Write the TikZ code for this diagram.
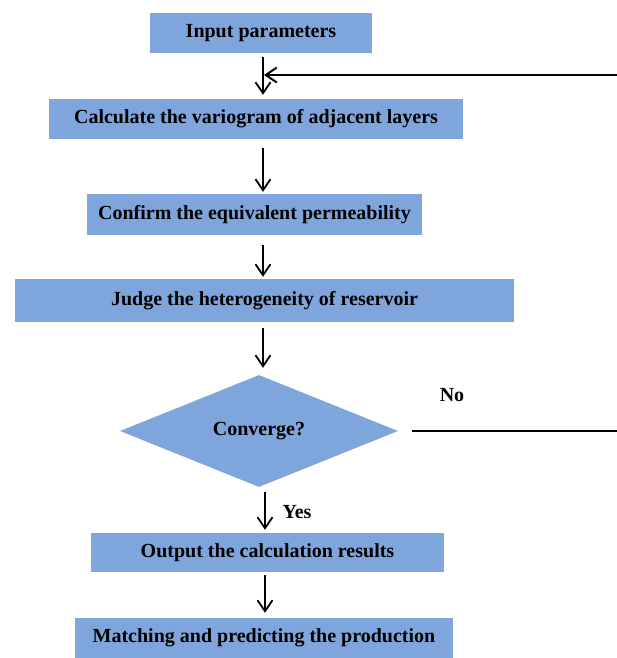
\documentclass[tikz,border=0pt]{standalone}
\usepackage{fontspec}
\setmainfont{Liberation Serif}
\usetikzlibrary{shapes.geometric,arrows.meta}
\definecolor{boxblue}{RGB}{126,166,220}

\begin{document}
\begin{tikzpicture}[
		x=1pt, y=-1pt,
		every node/.style={font=\bfseries\fontsize{20}{24}\selectfont, inner sep=0pt},
		box/.style={rectangle, fill=boxblue, minimum height=40pt},
		decision/.style={diamond, fill=boxblue, minimum width=278pt, minimum height=112pt},
		flow/.style={line width=1.8pt, -{Straight Barb[length=11pt,width=15pt]}},
		back/.style={line width=2pt}
	]
  \useasboundingbox (0,0) rectangle (617,658);
  \node (inp) [box, minimum width=222pt] at (261,33) {Input parameters};
  \node (calc) [box, minimum width=414pt] at (256,119) {Calculate the variogram of adjacent layers};
  \node (conf) [box, minimum width=335pt, minimum height=41pt] at (254.5,214.5) {Confirm the equivalent permeability};
  \node (judge) [box, minimum width=499pt, minimum height=43pt] at (264.5,300.5) {Judge the heterogeneity of reservoir};
  \node (conv) [decision] at (259,431) {Converge?};
  \node (outp) [box, minimum width=353pt, minimum height=39pt] at (267.5,552.5) {Output the calculation results};
  \node (match) [box, minimum width=378pt] at (264,638) {Matching and predicting the production};
  \node (no) at (452,395) {No};
  \node (yes) at (297,512) {Yes};
  \coordinate (spine) at (263,0);
  \coordinate (fb) at (640,0);
  \coordinate (join) at (264,75);
  \draw[flow, shorten <=4pt, shorten >=4pt] (inp.south -| spine) -- (calc.north -| spine);
  \draw[flow, shorten <=9pt, shorten >=2pt] (calc.south -| spine) -- (conf.north -| spine);
  \draw[flow, shorten <=10pt, shorten >=2pt] (conf.south -| spine) -- (judge.north -| spine);
  \draw[flow, shorten <=6pt, shorten >=7pt] (judge.south -| spine) -- (conv.north -| spine);
  \draw[flow, shorten <=5pt, shorten >=3pt] ([xshift=2pt]conv.south -| spine) -- ([xshift=2pt]outp.north -| spine);
  \draw[flow, shorten <=3pt, shorten >=5pt] ([xshift=2pt]outp.south -| spine) -- ([xshift=2pt]match.north -| spine);
  \draw[back, -{Straight Barb[length=11pt,width=15pt]}] ([xshift=14pt]conv.east) -- (conv.east -| fb) -- (fb |- join) -- (join);
\end{tikzpicture}
\end{document}
